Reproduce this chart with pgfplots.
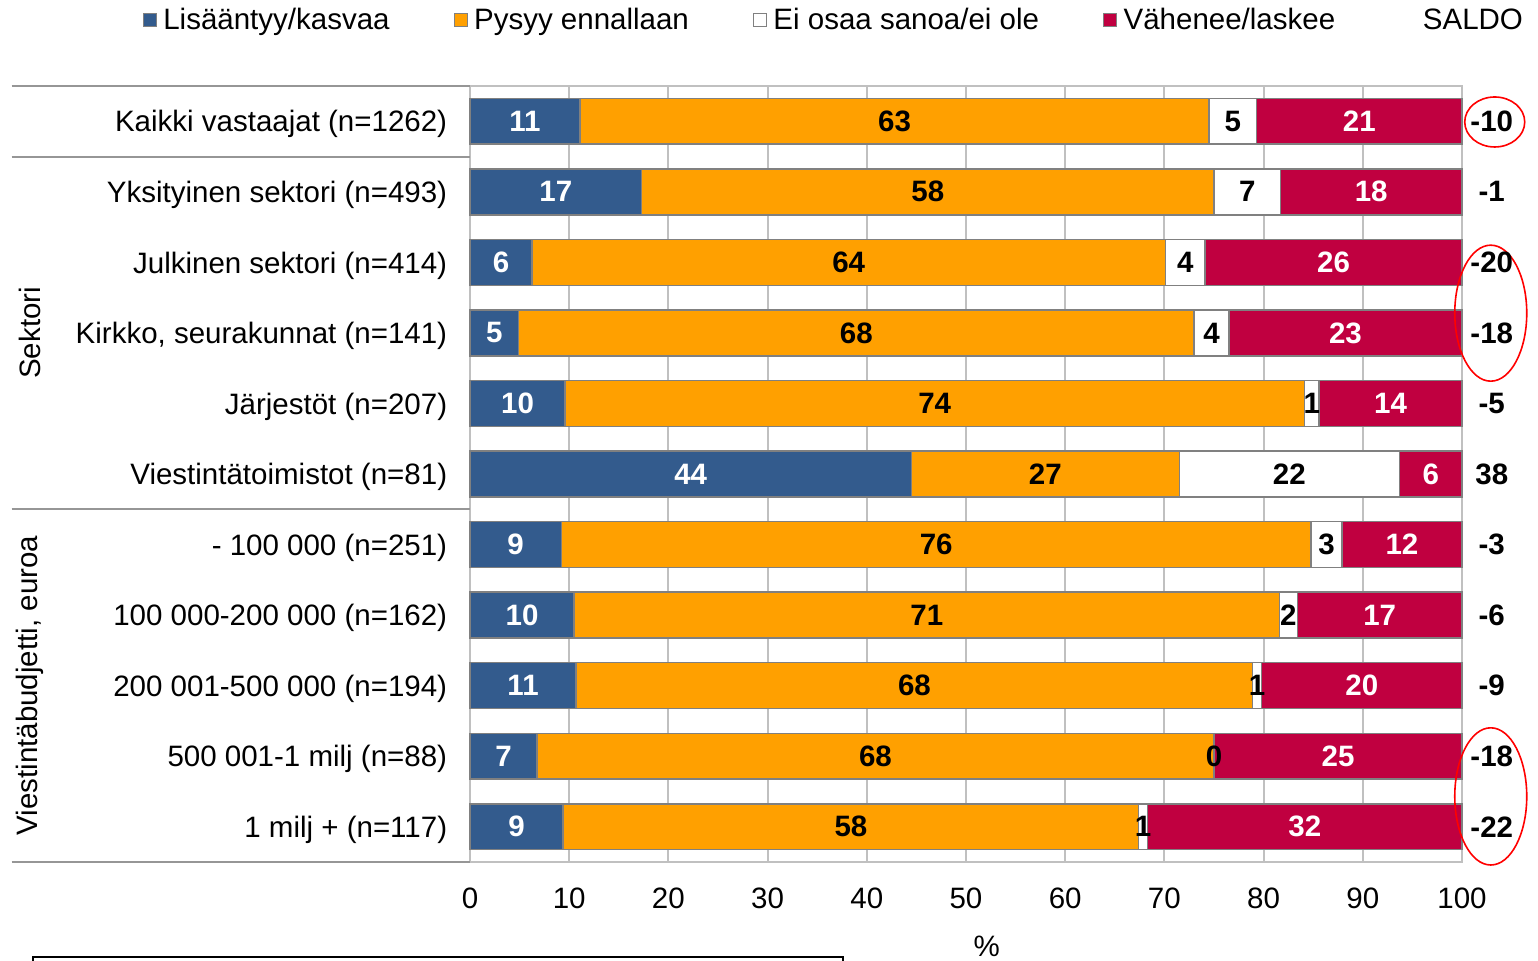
\documentclass[border=0pt]{standalone}
\usepackage{fontspec}
\setmainfont{Liberation Sans}
\usepackage{pgfplots}
\usepackage{pgfplotstable}
\pgfplotsset{compat=1.18}
\definecolor{cblue}{RGB}{51,91,141}
\definecolor{corange}{RGB}{255,160,0}
\definecolor{cred}{RGB}{192,0,64}
\definecolor{cedge}{RGB}{128,128,128}
\definecolor{cgrid}{RGB}{192,192,192}
\definecolor{csep}{RGB}{150,150,150}
\newcommand\fs{\fontsize{14.75}{17}\selectfont}

\pgfplotstableread{
y a b c d la lb lc ld s
0 11.1 63.4 4.8 20.7 11 63 5 21 -10
1 17.3 57.7 6.7 18.3 17 58 7 18 -1
2 6.25 63.85 4.0 25.9 6 64 4 26 -20
3 4.9 68.1 3.5 23.5 5 68 4 23 -18
4 9.6 74.5 1.5 14.4 10 74 1 14 -5
5 44.5 27.0 22.2 6.3 44 27 22 6 38
6 9.2 75.6 3.1 12.1 9 76 3 12 -3
7 10.5 71.1 1.8 16.6 10 71 2 17 -6
8 10.7 68.2 0.9 20.2 11 68 1 20 -9
9 6.75 68.25 0.0 25.0 7 68 0 25 -18
10 9.4 58.0 0.9 31.7 9 58 1 32 -22
}\data

\pgfplotsset{
  base/.style={
    scale only axis, width=496pt, height=388pt,
    at={(235pt,49pt)}, anchor=south west,
    xmin=0, xmax=100, ymin=-0.5, ymax=10.5, y dir=reverse,
    clip=false,
  },
  lab/.style={draw=none, mark=none, nodes near coords, point meta=explicit symbolic,
    every node near coord/.append style={font=\fs\bfseries, anchor=center, text=#1}},
}
\begin{document}
\begin{tikzpicture}
\begin{axis}[base,
  xbar stacked, bar width=0.65,
  axis line style={cgrid, line width=1pt},
  xmajorgrids, grid style={cgrid, line width=1pt},
  xtick={0,10,...,100},
  ytick={0,...,10},
  yticklabels={Kaikki vastaajat (n=1262), Yksityinen sektori (n=493), Julkinen sektori (n=414), {Kirkko, seurakunnat (n=141)}, Järjestöt (n=207), Viestintätoimistot (n=81), - 100 000 (n=251), 100 000-200 000 (n=162), 200 001-500 000 (n=194), 500 001-1 milj (n=88), 1 milj + (n=117)},
  major tick length=0pt,
  tick label style={font=\fs},
  /pgf/number format/assume math mode=true,
  yticklabel style={xshift=-7.9pt, yshift=-1.5pt},
  xticklabel style={yshift=-9.5pt},
  legend columns=4,
  legend cell align=left,
  legend style={draw=none, fill=none, inner sep=0pt, at={(-0.3302,1.0851)}, anchor=west,
    font=\fs, nodes={inner sep=3.25pt},
    /tikz/every even column/.append style={column sep=28.75pt}},
  legend image code/.code={\draw[#1, draw=cedge, line width=0.5pt] (-0.5pt,-3.25pt) rectangle (6pt,3.25pt);},
]
\addplot[fill=cblue, draw=cedge, line width=0.75pt] table[x=a,y=y]{\data};
\addlegendentry{Lisääntyy/kasvaa}
\addplot[fill=corange, draw=cedge, line width=0.75pt] table[x=b,y=y]{\data};
\addlegendentry{Pysyy ennallaan}
\addplot[fill=white, draw=cedge, line width=0.75pt] table[x=c,y=y]{\data};
\addlegendentry{Ei osaa sanoa/ei ole}
\addplot[fill=cred, draw=cedge, line width=0.75pt] table[x=d,y=y]{\data};
\addlegendentry{Vähenee/laskee}
\end{axis}
\begin{axis}[base, hide axis]
\addplot[lab=white] table[x expr=\thisrow{a}/2, y=y, meta=la]{\data};
\addplot[lab=black] table[x expr=\thisrow{a}+\thisrow{b}/2, y=y, meta=lb]{\data};
\addplot[lab=black] table[x expr=\thisrow{a}+\thisrow{b}+\thisrow{c}/2, y=y, meta=lc]{\data};
\addplot[lab=white] table[x expr=\thisrow{a}+\thisrow{b}+\thisrow{c}+\thisrow{d}/2, y=y, meta=ld]{\data};
\addplot[lab=black] table[x expr=103.0, y=y, meta=s]{\data};
% separators on the left
\draw[csep, line width=1pt] (axis cs:-46.2,-0.5) -- (axis cs:0,-0.5);
\draw[csep, line width=1pt] (axis cs:-46.2,0.5) -- (axis cs:0,0.5);
\draw[csep, line width=1pt] (axis cs:-46.2,5.5) -- (axis cs:0,5.5);
\draw[csep, line width=1pt] (axis cs:-46.2,10.5) -- (axis cs:0,10.5);
\node[font=\fs, rotate=90] at (axis cs:-44.35,3.0) {Sektori};
\node[font=\fs, rotate=90] at (axis cs:-44.35,8.0) {Viestintäbudjetti, euroa};
\node[font=\fs] at (axis cs:101.1,-1.44) {SALDO};
\node[font=\fs] at (axis cs:52.1,11.7) {\%};
% red ellipses
\draw[red, line width=0.8pt] (axis cs:103.3,0.01) ellipse [x radius=15pt, y radius=12.5pt];
\draw[red, line width=0.8pt] (axis cs:102.9,2.72) ellipse [x radius=18pt, y radius=34pt];
\draw[red, line width=0.8pt] (axis cs:102.9,9.57) ellipse [x radius=18pt, y radius=34.3pt];
% cut-off box at the bottom
\draw[black, line width=1pt] (axis cs:-44.05,12.6) -- (axis cs:-44.05,11.85) -- (axis cs:37.6,11.85) -- (axis cs:37.6,12.6);
\end{axis}
\pgfresetboundingbox
\useasboundingbox (0,0) rectangle (769pt,480pt);
\end{tikzpicture}
\end{document}
